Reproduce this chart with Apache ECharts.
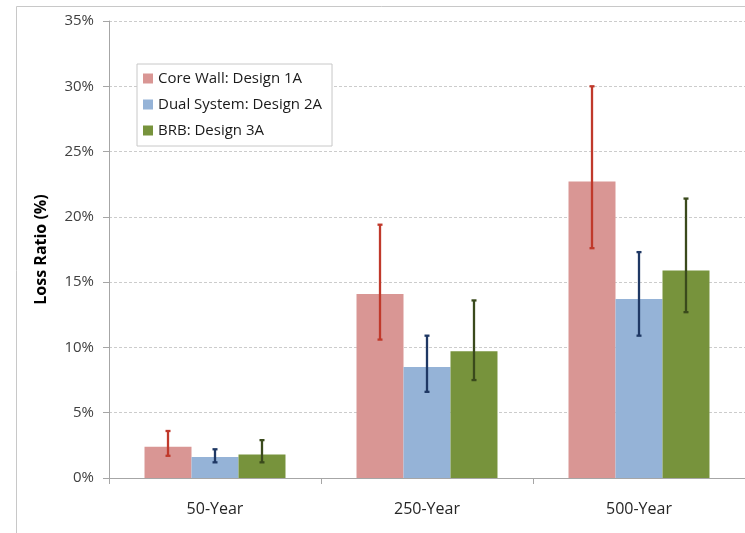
<!DOCTYPE html>
<html>
<head>
<meta charset="utf-8">
<script src="https://cdn.jsdelivr.net/npm/echarts@6/dist/echarts.min.js"></script>
<style>
  html, body { margin: 0; padding: 0; background: #fff; }
  #chart { width: 745px; height: 533px; }
</style>
</head>
<body>
<div id="chart"></div>
<script>
// Return periods on the x axis
const categories = ['50-Year', '250-Year', '500-Year'];

// Mean loss ratio (%) per design
const coreWall = [2.4, 14.1, 22.7];
const dualSystem = [1.6, 8.5, 13.7];
const brb = [1.8, 9.7, 15.9];

// Error bar bounds (%) per design
const coreWallLow = [1.7, 10.6, 17.6];
const coreWallHigh = [3.6, 19.4, 30.0];
const dualSystemLow = [1.2, 6.6, 10.9];
const dualSystemHigh = [2.2, 10.9, 17.3];
const brbLow = [1.2, 7.5, 12.7];
const brbHigh = [2.9, 13.6, 21.4];

// Y axis ticks (%)
const yTicks = [0, 5, 10, 15, 20, 25, 30, 35];

const seriesNames = ['Core Wall: Design 1A', 'Dual System: Design 2A', 'BRB: Design 3A'];
const barColors = ['#D99694', '#95B3D7', '#77933C'];
const whiskerColors = ['#C0392B', '#1F3864', '#3A4A1C'];
const CATEGORY_GAP = 0.335;

const chart = echarts.init(document.getElementById('chart'));

function errorSeries(idx, low, high) {
  return {
    type: 'custom',
    name: 'err' + idx,
    z: 5,
    data: categories.map((c, i) => [i, low[i], high[i]]),
    renderItem: function (params, api) {
      const ci = api.value(0);
      const catW = api.size([1, 0])[0];
      const barW = catW * (1 - CATEGORY_GAP) / 3;
      const dx = (idx - 1) * barW;
      const pLow = api.coord([ci, api.value(1)]);
      const pHigh = api.coord([ci, api.value(2)]);
      const x = pLow[0] + dx;
      const cap = 2.5;
      const style = { stroke: whiskerColors[idx], lineWidth: 2.3 };
      return {
        type: 'group',
        children: [
          { type: 'line', shape: { x1: x, y1: pLow[1], x2: x, y2: pHigh[1] }, style: style },
          { type: 'line', shape: { x1: x - cap, y1: pHigh[1], x2: x + cap, y2: pHigh[1] }, style: style },
          { type: 'line', shape: { x1: x - cap, y1: pLow[1], x2: x + cap, y2: pLow[1] }, style: style }
        ]
      };
    }
  };
}

const textFont = '"Open Sans", "Noto Sans", sans-serif';

chart.setOption({
  animation: false,
  backgroundColor: '#ffffff',
  textStyle: { fontFamily: textFont },
  graphic: [
    {
      type: 'polyline',
      shape: { points: [[16.5, 540], [16.5, 6.5], [760, 6.5]] },
      style: { stroke: '#c8c8c8', lineWidth: 1, fill: null },
      z: 0
    }
  ],
  grid: { left: 109, top: 21, right: -3, bottom: 55 },
  legend: {
    data: seriesNames,
    orient: 'vertical',
    left: 137,
    top: 64,
    padding: [7, 10, 8, 6],
    itemGap: 11,
    itemWidth: 10,
    itemHeight: 10,
    icon: 'rect',
    backgroundColor: '#ffffff',
    borderColor: '#c8c8c8',
    borderWidth: 1,
    textStyle: { fontSize: 15, color: '#1a1a1a', fontFamily: textFont },
    selectedMode: false,
    z: 10
  },
  xAxis: {
    type: 'category',
    data: categories,
    axisLine: { lineStyle: { color: '#a6a6a6', width: 1 } },
    axisTick: { show: true, alignWithLabel: false, length: 6, lineStyle: { color: '#a6a6a6' } },
    axisLabel: { fontSize: 16, color: '#262626', margin: 23, fontFamily: textFont },
    splitLine: { show: false }
  },
  yAxis: {
    type: 'value',
    min: yTicks[0],
    max: yTicks[yTicks.length - 1],
    interval: 5,
    name: 'Loss Ratio (%)',
    nameLocation: 'middle',
    nameGap: 60,
    nameRotate: 90,
    nameTextStyle: { fontSize: 16, fontWeight: 'bold', color: '#000', fontFamily: textFont },
    axisLine: { show: true, lineStyle: { color: '#a6a6a6', width: 1 } },
    axisTick: { show: true, length: 6, inside: false, lineStyle: { color: '#a6a6a6' } },
    axisLabel: { fontSize: 15, color: '#404040', margin: 15, formatter: v => v + '%', fontFamily: textFont },
    splitLine: { show: true, lineStyle: { color: '#cccccc', type: [3, 2], width: 1 } }
  },
  series: [
    { type: 'bar', name: seriesNames[0], data: coreWall, itemStyle: { color: barColors[0] }, barGap: '0%', barCategoryGap: (CATEGORY_GAP * 100) + '%' },
    { type: 'bar', name: seriesNames[1], data: dualSystem, itemStyle: { color: barColors[1] } },
    { type: 'bar', name: seriesNames[2], data: brb, itemStyle: { color: barColors[2] } },
    errorSeries(0, coreWallLow, coreWallHigh),
    errorSeries(1, dualSystemLow, dualSystemHigh),
    errorSeries(2, brbLow, brbHigh)
  ]
});
</script>
</body>
</html>
